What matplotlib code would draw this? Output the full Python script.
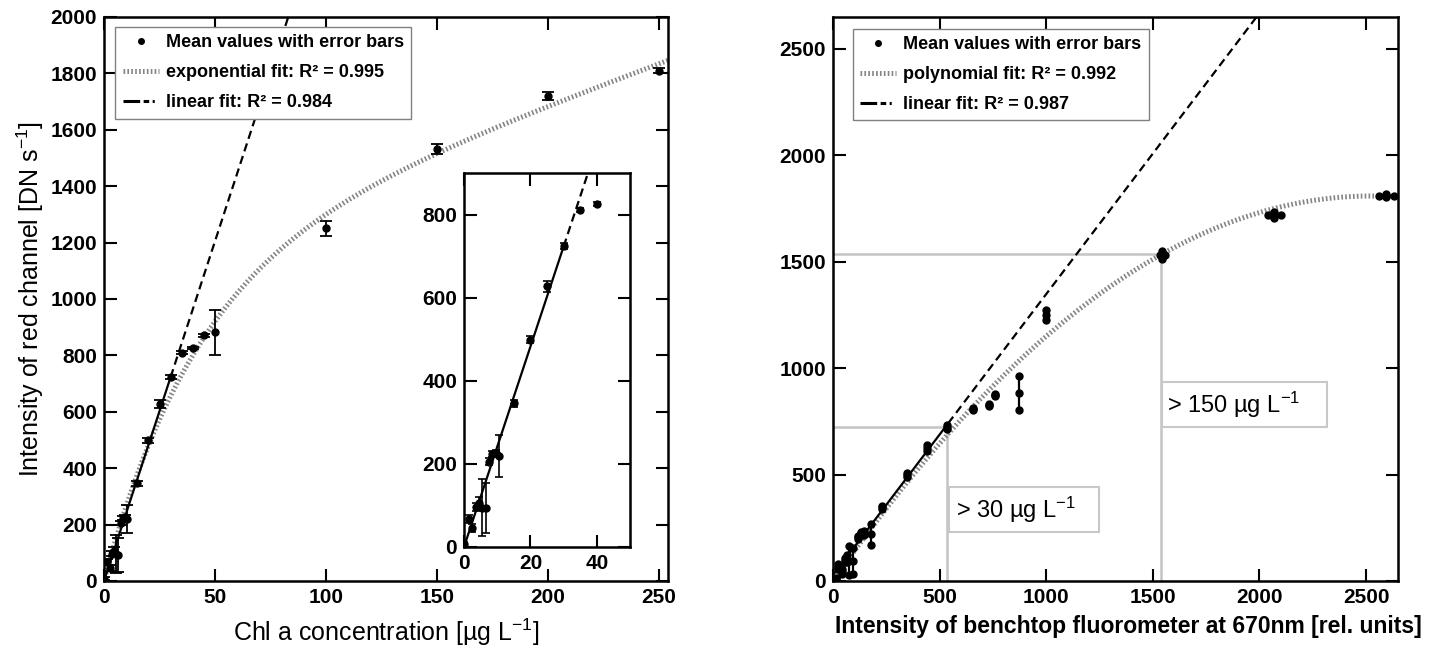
import numpy as np
import matplotlib
matplotlib.use("Agg")
import matplotlib.pyplot as plt
from matplotlib.lines import Line2D
from matplotlib.patches import Rectangle

# ---------------- data ----------------
conc = [0, 1.5, 2.5, 3.5, 4.5, 5.5, 6.5, 7.5, 8.5, 9.5, 10.5, 15, 20, 25, 30,
        35, 40, 45, 50, 100, 150, 200, 250]
red = [8, 68, 45, 97, 105, 95, 93, 205, 224, 226, 219, 346, 499, 627, 724,
       810, 826, 872, 882, 1250, 1532, 1720, 1810]
red_err = [5, 10, 10, 10, 15, 68, 60, 8, 8, 8, 50, 8, 8, 14, 8,
           5, 5, 5, 80, 25, 18, 15, 8]
fluor = [15, 25, 40, 55, 65, 75, 95, 115, 130, 145, 178, 228, 348, 440, 537,
         655, 730, 762, 873, 1000, 1545, 2070, 2595]
fluor_err = [0, 0, 0, 0, 0, 0, 0, 0, 0, 0, 0, 0, 0, 0, 0,
             0, 0, 0, 0, 0, 10, 30, 35]

# fit parameters
EXP_A, EXP_B, EXP_C = 1112.0, 0.0239, 2.9      # y = A(1-exp(-Bx)) + Cx
LIN_L_SLOPE, LIN_L_ICPT, LIN_L_END = 24.1, 0.0, 30.0
POLY_R = [-2.842e-4, 1.434, 0.0]                  # quadratic coefficients
LIN_R_SLOPE, LIN_R_ICPT, LIN_R_END = 1.32, 28.0, 540.0

thr_x = [535, 1540]
thr_y = [723, 1535]
thr_labels = ["> 30 µg L$^{-1}$", "> 150 µg L$^{-1}$"]

legend_left = ["Mean values with error bars", "exponential fit: R² = 0.995",
               "linear fit: R² = 0.984"]
legend_right = ["Mean values with error bars", "polynomial fit: R² = 0.992",
                "linear fit: R² = 0.987"]

# ---------------- style ----------------
plt.rcParams["font.family"] = ["Liberation Sans", "DejaVu Sans"]
plt.rcParams["mathtext.fontset"] = "custom"
plt.rcParams["mathtext.rm"] = "Liberation Sans"
plt.rcParams["mathtext.bf"] = "Liberation Sans:bold"
plt.rcParams["mathtext.default"] = "regular"
plt.rcParams["lines.scale_dashes"] = False

GREY = "#858585"
W, H = 1440, 647
fig = plt.figure(figsize=(14.4, 6.47), dpi=100)


def px_axes(x0, y0, x1, y1):
    return fig.add_axes([x0 / W, (H - y1) / H, (x1 - x0) / W, (y1 - y0) / H])


def style(ax, size=15):
    for s in ax.spines.values():
        s.set_linewidth(1.8)
    ax.tick_params(direction="in", length=9, width=1.5, top=True, right=True,
                   labelsize=size, pad=5)
    for lab in ax.get_xticklabels() + ax.get_yticklabels():
        lab.set_fontweight("bold")


def grey_curve(ax, x, y, **kw):
    ax.plot(x, y, color=GREY, lw=3.6, dashes=(1.2, 1.6),
            dash_capstyle="butt", **kw)


conc_a = np.array(conc, float)
red_a = np.array(red, float)
rerr_a = np.array(red_err, float)
fl_a = np.array(fluor, float)
ferr_a = np.array(fluor_err, float)

# ---------------- left panel ----------------
ax1 = px_axes(104, 17, 668, 581)
XMAX_L = 254
xs = np.linspace(0, XMAX_L, 400)
grey_curve(ax1, xs, EXP_A * (1 - np.exp(-EXP_B * xs)) + EXP_C * xs, zorder=2)
xsol = np.linspace(0, LIN_L_END, 50)
xdash = np.linspace(LIN_L_END, XMAX_L, 100)
ax1.plot(xsol, LIN_L_SLOPE * xsol + LIN_L_ICPT, color="k", lw=1.6, zorder=3)
ax1.plot(xdash, LIN_L_SLOPE * xdash + LIN_L_ICPT, color="k", lw=1.6,
         dashes=(6, 3.5), zorder=3)
ax1.errorbar(conc_a, red_a, yerr=rerr_a, fmt="o", color="k", ms=5,
             capsize=4, elinewidth=1.3, capthick=1.3, zorder=4)
ax1.set_xlim(0, XMAX_L)
ax1.set_ylim(0, 2000)
ax1.set_xticks(np.arange(0, 251, 50))
ax1.set_yticks(np.arange(0, 2001, 200))
style(ax1)
ax1.set_xlabel("Chl a concentration [µg L$^{-1}$]", fontsize=18, labelpad=7)
ax1.set_ylabel("Intensity of red channel [DN s$^{-1}$]", fontsize=18,
               labelpad=3)

h_pts = Line2D([], [], ls="none", marker="o", ms=4, color="k")
h_fit = Line2D([], [], color=GREY, lw=3.6, dashes=(1.2, 1.6),
               dash_capstyle="butt")
h_lin = Line2D([], [], color="k", lw=2.2, dashes=(12, 2.5, 4, 2.5, 1.5, 30),
               dash_capstyle="butt")


def make_legend(ax, labels, anchor):
    leg = ax.legend([h_pts, h_fit, h_lin], labels, loc="upper left",
                    bbox_to_anchor=anchor, borderaxespad=0, fancybox=False,
                    edgecolor="#808080", framealpha=1,
                    prop=dict(weight="bold", size=13), handlelength=2.0,
                    handletextpad=0.4, borderpad=0.4, labelspacing=0.72,
                    numpoints=1)
    leg.get_frame().set_linewidth(1.0)
    leg.set_zorder(10)
    return leg


make_legend(ax1, legend_left, (0.02, 0.982))

# ---------------- inset ----------------
ins = px_axes(464, 173, 630, 547)
m = conc_a <= 40
xsol_i = np.linspace(0, LIN_L_END, 50)
xdash_i = np.linspace(LIN_L_END, 50, 50)
ins.plot(xsol_i, LIN_L_SLOPE * xsol_i + LIN_L_ICPT, color="k", lw=1.6,
         zorder=3)
ins.plot(xdash_i, LIN_L_SLOPE * xdash_i + LIN_L_ICPT, color="k", lw=1.6,
         dashes=(6, 3.5), zorder=3)
ins.errorbar(conc_a[m], red_a[m], yerr=rerr_a[m], fmt="o", color="k", ms=5,
             capsize=3, elinewidth=1.2, capthick=1.2, zorder=4)
ins.set_xlim(0, 50)
ins.set_ylim(0, 900)
ins.set_xticks([0, 20, 40])
ins.set_yticks([0, 200, 400, 600, 800])
style(ins)

# ---------------- right panel ----------------
ax2 = px_axes(833, 17, 1398, 581)
XMAX_R = 2650
for tx, ty in zip(thr_x, thr_y):
    ax2.plot([0, tx], [ty, ty], color="#c4c4c4", lw=1.8, zorder=1)
    ax2.plot([tx, tx], [0, ty], color="#c4c4c4", lw=1.8, zorder=1)

ax2.add_patch(Rectangle((545, 230), 704, 211, facecolor="white",
                        edgecolor="#c8c8c8", lw=1.5, zorder=1.5))
ax2.add_patch(Rectangle((1545, 723), 774, 211, facecolor="white",
                        edgecolor="#c8c8c8", lw=1.5, zorder=1.5))
ax2.text(577, 336, thr_labels[0], fontsize=17, va="center", ha="left",
         zorder=2)
ax2.text(1568, 829, thr_labels[1], fontsize=17, va="center", ha="left",
         zorder=2)

xr = np.linspace(0, XMAX_R, 400)
grey_curve(ax2, xr, np.polyval(POLY_R, xr), zorder=2)
xrs = np.linspace(0, LIN_R_END, 50)
xrd = np.linspace(LIN_R_END, XMAX_R, 100)
ax2.plot(xrs, LIN_R_SLOPE * xrs + LIN_R_ICPT, color="k", lw=1.6, zorder=3)
ax2.plot(xrd, LIN_R_SLOPE * xrd + LIN_R_ICPT, color="k", lw=1.6,
         dashes=(6, 3.5), zorder=3)

ax2.errorbar(fl_a, red_a, xerr=ferr_a, yerr=rerr_a, fmt="o", color="k",
             ms=5, capsize=0, elinewidth=1.6, zorder=4)
my = rerr_a > 0
ax2.plot(fl_a[my], red_a[my] + rerr_a[my], "ko", ms=5, zorder=4)
ax2.plot(fl_a[my], red_a[my] - rerr_a[my], "ko", ms=5, zorder=4)
mx = ferr_a > 0
ax2.plot(fl_a[mx] + ferr_a[mx], red_a[mx], "ko", ms=5, zorder=4)
ax2.plot(fl_a[mx] - ferr_a[mx], red_a[mx], "ko", ms=5, zorder=4)

ax2.set_xlim(0, XMAX_R)
ax2.set_ylim(0, XMAX_R)
ax2.set_xticks(np.arange(0, 2501, 500))
ax2.set_yticks(np.arange(0, 2501, 500))
style(ax2)
ax2.set_xlabel("Intensity of benchtop fluorometer at 670nm [rel. units]",
               fontsize=16.5, fontweight="bold", labelpad=6)
ax2.xaxis.label.set_x(0.522)
make_legend(ax2, legend_right, (0.035, 0.979))

fig.savefig("out.png", dpi=100)
